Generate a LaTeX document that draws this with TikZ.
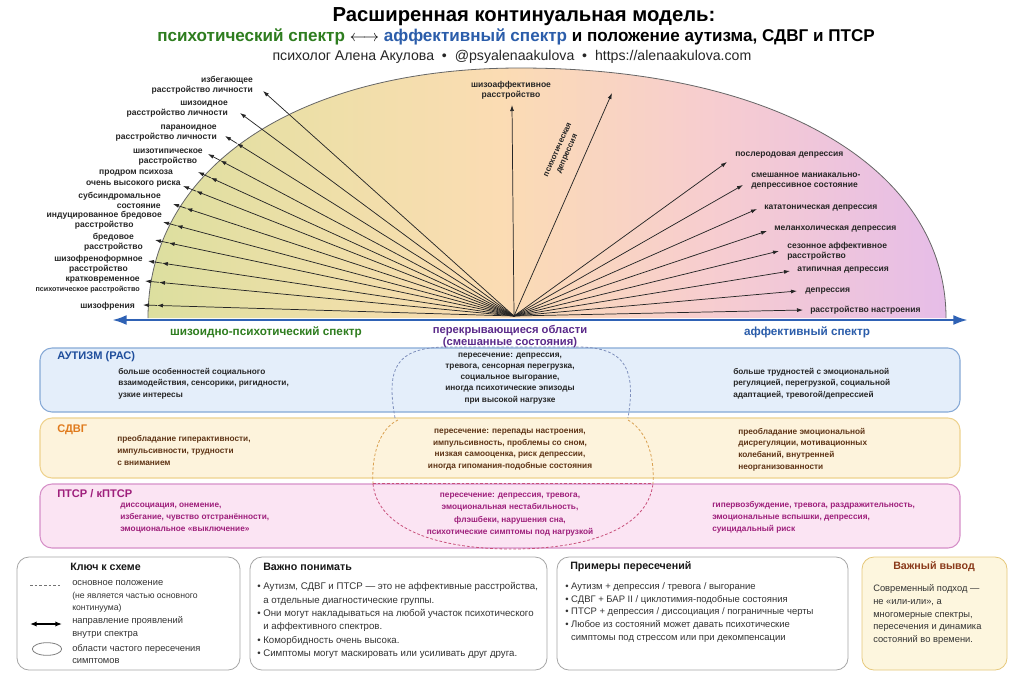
\documentclass[tikz,border=0pt]{standalone}
\usepackage{fontspec}
\setmainfont{Liberation Sans}
\usetikzlibrary{arrows.meta,calc,shapes.geometric}
\definecolor{cgreen}{HTML}{2E7D1F}
\definecolor{cblue}{HTML}{2B5DAA}
\definecolor{cpurple}{HTML}{5B2A8A}
\definecolor{axblue}{HTML}{2F62B5}
\definecolor{autfill}{HTML}{E4EEFA}
\definecolor{autdraw}{HTML}{86A9D6}
\definecolor{autttl}{HTML}{1F4E9C}
\definecolor{adfill}{HTML}{FDF3DC}
\definecolor{addraw}{HTML}{EED28E}
\definecolor{adttl}{HTML}{E07A1C}
\definecolor{adtxt}{HTML}{5E3416}
\definecolor{ptfill}{HTML}{FBE4F3}
\definecolor{ptdraw}{HTML}{D68FC8}
\definecolor{pttxt}{HTML}{9E1F7B}
\definecolor{arcL}{HTML}{DCDF9F}
\definecolor{arcLM}{HTML}{EEDFA8}
\definecolor{arcM}{HTML}{FBDCB3}
\definecolor{arcP}{HTML}{F7CDCF}
\definecolor{arcR}{HTML}{E6BDE8}
\definecolor{keyfill}{HTML}{FDF6DE}
\definecolor{keydraw}{HTML}{E6C87A}
\definecolor{keyttl}{HTML}{8A3A1A}
\definecolor{txtgray}{HTML}{333333}
\definecolor{dashblue}{HTML}{7E8FBC}
\definecolor{dashor}{HTML}{D9A050}
\definecolor{dashpk}{HTML}{C8507A}
\pgfdeclarehorizontalshading{arcshade}{100bp}{color(0bp)=(arcL); color(25bp)=(arcL); color(36bp)=(arcLM); color(47bp)=(arcM); color(60bp)=(arcP); color(75bp)=(arcR); color(100bp)=(arcR)}
\newcommand{\myfs}[2]{\fontsize{#1}{#2}\selectfont}
\newcommand{\bsp}{\phantom{\textbullet\ }}
\tikzset{
  ray/.style={line width=0.55pt, draw=black!85, -{Latex[length=4.5pt,width=3pt]}},
  rlbl/.style={font=\bfseries\myfs{6.4}{7.4}, text=black!85, inner sep=0pt},
  bx/.style={rounded corners=9pt, line width=0.8pt, minimum width=690pt},
  hdr/.style={font=\bfseries\myfs{8.3}{10}, inner sep=0pt, anchor=west},
  btxt/.style={inner sep=0pt, align=left, anchor=west},
  ctxt/.style={inner sep=0pt, align=center},
  kbox/.style={rounded corners=9pt, line width=0.6pt, draw=black!35, fill=white, minimum height=84.75pt},
  ktitle/.style={font=\bfseries\myfs{8}{10}, inner sep=0pt, text=black!90},
  ktxt/.style={font=\myfs{7.25}{10}, inner sep=0pt, align=left, anchor=west, text=txtgray},
  ovl/.style={line width=0.6pt, dash pattern=on 2pt off 1.5pt},
  axisline/.style={line width=2pt, draw=axblue, {Latex[length=11pt,width=7.5pt]}-{Latex[length=11pt,width=7.5pt]}}
}
\begin{document}
\begin{tikzpicture}[x=0.75pt,y=-0.75pt]
\useasboundingbox (0,0) rectangle (1024,683);
\fill[white] (0,0) rectangle (1024,683);

% titles
\node[inner sep=0pt, font=\bfseries\myfs{15.2}{18}] (t1) at (524,17) {Расширенная континуальная модель:};
\node[inner sep=0pt, font=\bfseries\myfs{12.8}{16}] (t2) at (516,37) {\textcolor{cgreen}{психотический спектр} $\longleftrightarrow$ \textcolor{cblue}{аффективный спектр} и положение аутизма, СДВГ и ПТСР};
\node[inner sep=0pt, font=\myfs{10.6}{12}, text=black!85] (t3) at (512,57) {психолог Алена Акулова\ \ \textbullet\ \ @psyalenaakulova\ \ \textbullet\ \ https://alenaakulova.com};

% semi-ellipse
\shade[shading=arcshade] (148,318) .. controls (148,168) and (297,68) .. (520,68) .. controls (775,68) and (946,168) .. (946,318) -- cycle;
\draw[line width=0.6pt, draw=black!60] (148,318) .. controls (148,168) and (297,68) .. (520,68) .. controls (775,68) and (946,168) .. (946,318);

\coordinate (c) at (514,316);

% left rays
\coordinate (t1l) at (263,91);
\coordinate (t2l) at (240,113);
\draw[ray] (c) -- (t1l);
\draw[ray] (c) -- (t2l);
\foreach \i/\x/\y in {3/225/136, 4/208/154, 5/198/172, 6/183/186, 7/173/204, 8/163/222, 9/155/240, 10/148/261, 11/145/281, 12/143/305}{
  \coordinate (t\i l) at (\x,\y);
  \coordinate (a\i l) at ($(t\i l)!10.5pt!(c)$);
  \draw[ray] (c) -- (a\i l);
  \draw[ray] (a\i l) -- (t\i l);
}

% right rays
\foreach \i/\x/\y in {1/727/162, 2/743/185, 3/757/209, 4/767/231, 5/779/251, 6/790/271, 7/797/291, 8/803/310}{
  \coordinate (t\i r) at (\x,\y);
  \draw[ray] (c) -- (t\i r);
}
\coordinate (tsa) at (512,105);
\coordinate (tpd) at (612,93);
\draw[ray] (c) -- (tsa);
\draw[ray] (c) -- (tpd);

% left labels
\node[rlbl, anchor=east, align=right] (l1) at (253,85) {избегающее\\расстройство личности};
\node[rlbl, anchor=east, align=right] (l2) at (228,109) {шизоидное\\расстройство личности};
\node[rlbl, anchor=east, align=right] (l3) at (217,133) {параноидное\\расстройство личности};
\node[rlbl, anchor=east, align=center] (l4) at (203,157) {шизотипическое\\расстройство};
\node[rlbl, anchor=east] (l5) at (173,173) {продром психоза};
\node[rlbl, anchor=east] (l6) at (181,184) {очень высокого риска};
\node[rlbl, anchor=east, align=right] (l7) at (161,200) {субсиндромальное\\состояние};
\node[rlbl, anchor=east, align=center] (l8) at (162,220) {индуцированное бредовое\\расстройство};
\node[rlbl, anchor=east, align=center] (l9) at (143,242) {бредовое\\расстройство};
\node[rlbl, anchor=east, align=center] (l10) at (143,264) {шизофреноформное\\расстройство};
\node[rlbl, anchor=east, align=right] (l11) at (140,285) {кратковременное\\{\myfs{5.4}{7}психотическое расстройство}};
\node[rlbl, anchor=east] (l12) at (135,306) {шизофрения};

% right labels
\node[rlbl, anchor=west] (r1) at (735,155) {послеродовая депрессия};
\node[rlbl, anchor=west, align=left] (r2) at (751,181) {смешанное маниакально-\\депрессивное состояние};
\node[rlbl, anchor=west] (r3) at (764,208) {кататоническая депрессия};
\node[rlbl, anchor=west] (r4) at (774,229) {меланхолическая депрессия};
\node[rlbl, anchor=west, align=left] (r5) at (787,251) {сезонное аффективное\\расстройство};
\node[rlbl, anchor=west] (r6) at (797,270) {атипичная депрессия};
\node[rlbl, anchor=west] (r7) at (805,291) {депрессия};
\node[rlbl, anchor=west] (r8) at (810,310) {расстройство настроения};

\node[rlbl, align=center] (sa) at (511,90) {шизоаффективное\\расстройство};
\node[rlbl, align=center, rotate=66, font=\bfseries\myfs{6}{7.6}] (pd) at (563,152) {психотическая\\депрессия};

% axis
\coordinate (axa) at (112,320);
\coordinate (axb) at (968,320);
\draw[axisline] (axa) -- (axb);

\node[inner sep=0pt, font=\bfseries\myfs{8.8}{10}, text=cgreen] (axl) at (266,332) {шизоидно-психотический спектр};
\node[inner sep=0pt, font=\bfseries\myfs{8.8}{10}, text=cblue] (axr) at (807,332) {аффективный спектр};

% boxes
\node[bx, draw=autdraw, fill=autfill, minimum height=48pt] (aut) at (500,380) {};
\node[bx, draw=addraw, fill=adfill, minimum height=45pt] (adhd) at (500,448) {};
\node[bx, draw=ptdraw, fill=ptfill, minimum height=48pt] (ptsd) at (500,516) {};

% overlap region
\draw[ovl, draw=dashblue] (395,418) .. controls (386,368) and (396,348) .. (445,347) -- (580,347) .. controls (626,348) and (636,370) .. (628,418);
\draw[ovl, draw=dashor] (373,484) .. controls (371,445) and (385,426) .. (398,420);
\draw[ovl, draw=dashor] (628,420) .. controls (642,428) and (655,448) .. (653,484);
\draw[ovl, draw=dashpk] (373,483) -- (653,483);
\draw[ovl, draw=dashpk] (373,484) .. controls (378,530) and (440,549) .. (512,549) .. controls (585,549) and (647,530) .. (653,484);

\node[inner sep=0pt, font=\bfseries\myfs{8.4}{9.6}, text=cpurple, align=center] (axm) at (510,336.5) {перекрывающиеся области\\(смешанные состояния)};

% box texts
\node[hdr, text=autttl] (h1) at (57,357) {АУТИЗМ (РАС)};
\node[hdr, text=adttl] (h2) at (57,430) {СДВГ};
\node[hdr, text=pttxt] (h3) at (57,494) {ПТСР / кПТСР};

\node[btxt, font=\bfseries\myfs{6.2}{8.6}, text=black!85] (aL) at (118,383.5) {больше особенностей социального\\взаимодействия, сенсорики, ригидности,\\узкие интересы};
\node[ctxt, font=\bfseries\myfs{6.2}{8.3}, text=black!85] (aC) at (510,378.5) {пересечение: депрессия,\\тревога, сенсорная перегрузка,\\социальное выгорание,\\иногда психотические эпизоды\\при высокой нагрузке};
\node[btxt, font=\bfseries\myfs{6.2}{8.6}, text=black!85] (aR) at (733,383.5) {больше трудностей с эмоциональной\\регуляцией, перегрузкой, социальной\\адаптацией, тревогой/депрессией};

\node[btxt, font=\bfseries\myfs{6.2}{9}, text=adtxt] (dL) at (117,450) {преобладание гиперактивности,\\импульсивности, трудности\\с вниманием};
\node[ctxt, font=\bfseries\myfs{6.2}{8.8}, text=adtxt] (dC) at (510,449.5) {пересечение: перепады настроения,\\импульсивность, проблемы со сном,\\низкая самооценка, риск депрессии,\\иногда гипомания-подобные состояния};
\node[btxt, font=\bfseries\myfs{6.2}{8.8}, text=adtxt] (dR) at (738,449.5) {преобладание эмоциональной\\дисрегуляции, мотивационных\\колебаний, внутренней\\неорганизованности};

\node[btxt, font=\bfseries\myfs{6.2}{9}, text=pttxt] (pL) at (120,518) {диссоциация, онемение,\\избегание, чувство отстранённости,\\эмоциональное «выключение»};
\node[ctxt, font=\bfseries\myfs{6.2}{9.2}, text=pttxt] (pC) at (510,514.5) {пересечение: депрессия, тревога,\\эмоциональная нестабильность,\\флэшбеки, нарушения сна,\\психотические симптомы под нагрузкой};
\node[btxt, font=\bfseries\myfs{6.2}{9}, text=pttxt] (pR) at (712,517) {гипервозбуждение, тревога, раздражительность,\\эмоциональные вспышки, депрессия,\\суицидальный риск};

% bottom boxes
\node[kbox, minimum width=167.25pt] (k1) at (128.5,613.5) {};
\node[kbox, minimum width=222.75pt] (k2) at (398.5,613.5) {};
\node[kbox, minimum width=218.25pt] (k3) at (702.5,613.5) {};
\node[kbox, minimum width=108.75pt, draw=keydraw, fill=keyfill] (k4) at (934.5,613.5) {};

\node[ktitle, anchor=west] (k1t) at (70,567) {Ключ к схеме};
\coordinate (ld1) at (30,585);
\coordinate (ld2) at (60,585);
\draw[line width=0.6pt, draw=black!55, dash pattern=on 2pt off 1.5pt] (ld1) -- (ld2);
\coordinate (la1) at (30,624);
\coordinate (la2) at (62,624);
\draw[line width=1pt, {Latex[length=5pt,width=4pt]}-{Latex[length=5pt,width=4pt]}] (la1) -- (la2);
\node[draw=black!50, line width=0.6pt, ellipse, minimum width=22pt, minimum height=9.5pt, inner sep=0pt] (le) at (47,649) {};
\node[ktxt, font=\myfs{7}{9.3}] (k1a) at (72,596.5) {основное положение\\{\myfs{6.5}{9.3}(не является частью основного}\\{\myfs{6.5}{9.3}континуума)}};
\node[ktxt, font=\myfs{7}{9.3}] (k1b) at (72,627.5) {направление проявлений\\внутри спектра};
\node[ktxt, font=\myfs{7}{9.3}] (k1c) at (72,654) {области частого пересечения\\симптомов};

\node[ktitle, anchor=west] (k2t) at (263,567) {Важно понимать};
\node[ktxt] (k2a) at (257,620.5) {\textbullet\ Аутизм, СДВГ и ПТСР — это не аффективные расстройства,\\\bsp а отдельные диагностические группы.\\\textbullet\ Они могут накладываться на любой участок психотического\\\bsp и аффективного спектров.\\\textbullet\ Коморбидность очень высока.\\\textbullet\ Симптомы могут маскировать или усиливать друг друга.};

\node[ktitle, anchor=west] (k3t) at (570,567) {Примеры пересечений};
\node[ktxt, font=\myfs{7.1}{9.6}] (k3a) at (565,612.5) {\textbullet\ Аутизм + депрессия / тревога / выгорание\\\textbullet\ СДВГ + БАР II / циклотимия-подобные состояния\\\textbullet\ ПТСР + депрессия / диссоциация / пограничные черты\\\textbullet\ Любое из состояний может давать психотические\\\bsp симптомы под стрессом или при декомпенсации};

\node[ktitle, text=keyttl] (k4t) at (934,567) {Важный вывод};
\node[ktxt, font=\myfs{7}{9.6}] (k4a) at (873,614.5) {Современный подход —\\не «или-или», а\\многомерные спектры,\\пересечения и динамика\\состояний во времени.};
\end{tikzpicture}
\end{document}
